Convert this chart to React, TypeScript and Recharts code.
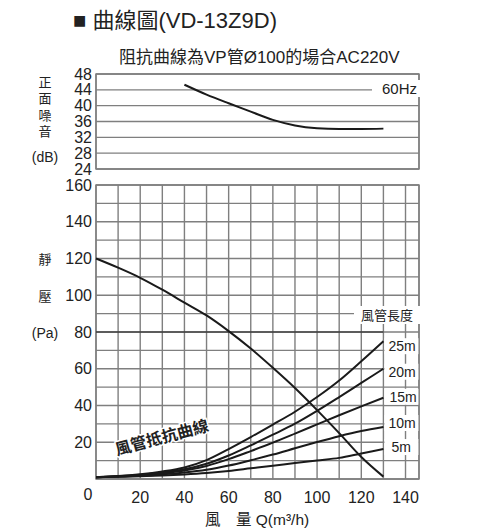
import React from 'react';
import { LineChart, Line, XAxis, YAxis, CartesianGrid, ReferenceLine, ReferenceArea, LabelList } from 'recharts';

// airflow Q (m³/h)
const flow = [0, 10, 20, 30, 40, 50, 60, 70, 80, 90, 100, 110, 120, 130];
// noise (dB), 60Hz
const noise60Hz = [null, null, null, null, 45.3, 42.8, 40.6, 38.5, 36.4, 35, 34.3, 34.1, 34.1, 34.2];
// static pressure (Pa)
const staticPressure = [120, 115, 109.5, 103, 96, 89, 80.5, 71, 60.5, 49.5, 37.5, 25, 12, 1.3];
// duct resistance curves (Pa)
const duct25m = [1, 1.6, 2.6, 4.1, 6.3, 10.3, 16.3, 22.8, 29.6, 36.6, 44.6, 53.6, 64.1, 75];
const duct20m = [1, 1.5, 2.3, 3.5, 5.3, 8.3, 12.8, 18.3, 24.1, 30.1, 37.1, 44.6, 52.3, 60];
const duct15m = [1, 1.4, 2.1, 3.1, 4.6, 7.1, 10.8, 15.2, 19.8, 24.7, 29.7, 34.7, 39.5, 44.2];
const duct10m = [1, 1.3, 1.8, 2.5, 3.5, 5, 7.3, 10.2, 13.3, 16.7, 20.1, 23.3, 26.1, 28.3];
const duct5m = [1, 1.2, 1.5, 1.9, 2.5, 3.3, 4.4, 5.8, 7.2, 8.7, 10.1, 11.5, 13.9, 16.3];
const ductLabels = ['25m', '20m', '15m', '10m', '5m'];

const xTicks = [0, 10, 20, 30, 40, 50, 60, 70, 80, 90, 100, 110, 120, 130, 140];
const noiseTicks = [24, 28, 32, 36, 40, 44, 48];
const pressureTicks = [0, 10, 20, 30, 40, 50, 60, 70, 80, 90, 100, 110, 120, 130, 140, 150, 160];
const X_MAX = 146.1;

const noiseData = flow.map((q, i) => ({ q, noise: noise60Hz[i] }));
const ductSeries = [duct25m, duct20m, duct15m, duct10m, duct5m];
const pressureData = flow.map((q, i) => {
  const row: any = { q, sp: staticPressure[i] };
  ductSeries.forEach((s, k) => { row['d' + k] = s[i]; });
  return row;
});

const FONT = '"Liberation Sans", Arial, "Noto Sans CJK TC", sans-serif';
const GRID = '#7f7f7f';
const INK = '#1a1a1a';
const TEXT = '#222';

const labelShift: Record<string, number> = { '25m': 5, '20m': 3, '15m': -1, '10m': -4, '5m': -2 };
const labelIndent: Record<string, number> = { '25m': 5, '20m': 5, '15m': 6, '10m': 5, '5m': 8 };

const YTick = (props: any) => {
  const { x, y, payload, labelStep, skipZero } = props;
  const v = payload.value;
  if (skipZero && v === 0) return null;
  if (labelStep && v % labelStep !== 0) return null;
  return (
    <text x={x + 4} y={y} dy={5.5} textAnchor="end" fontSize={16} fill={TEXT} fontFamily={FONT}>
      {v}
    </text>
  );
};

const XTick = (props: any) => {
  const { x, y, payload } = props;
  const v = payload.value;
  if (v % 20 !== 0) return null;
  if (v === 0) {
    return (
      <text x={x - 8} y={y} dy={13} textAnchor="middle" fontSize={16} fill={TEXT} fontFamily={FONT}>0</text>
    );
  }
  return (
    <text x={x} y={y} dy={16} textAnchor="middle" fontSize={16} fill={TEXT} fontFamily={FONT}>{v}</text>
  );
};

const makeEndLabel = (name: string) => (p: any) => {
  const { x, y, index } = p;
  if (index !== flow.length - 1) return null;
  const cy = y + labelShift[name];
  return (
    <g>
      <rect x={x + 1} y={cy - 8} width={34} height={16} fill="#fff" />
      <text x={x + labelIndent[name]} y={cy} dy={5} fontSize={14} fill={TEXT} fontFamily={FONT}>{name}</text>
    </g>
  );
};

export default function App() {
  return (
    <div style={{ position: 'absolute', left: 0, top: 0, width: 477, height: 530, background: '#fff', fontFamily: FONT }}>
      <div style={{ position: 'absolute', left: 0, top: 0 }}>
        <LineChart width={477} height={180} data={noiseData} margin={{ top: 74, right: 58, bottom: 11, left: 56 }}>
          <CartesianGrid stroke={GRID} strokeWidth={1.4} />
          <XAxis type="number" dataKey="q" domain={[0, X_MAX]} ticks={xTicks} height={0} tick={false} axisLine={false} tickLine={false} />
          <YAxis type="number" domain={[24, 48]} ticks={noiseTicks} width={40} axisLine={false} tickLine={false} tick={<YTick />} interval={0} />
          <ReferenceArea x1={0} x2={X_MAX} y1={24} y2={48} fill="none" stroke={GRID} strokeWidth={1.4} fillOpacity={0} />
          <Line type="monotone" dataKey="noise" stroke={INK} strokeWidth={2} dot={false} isAnimationActive={false} connectNulls={false} />
        </LineChart>
      </div>
      <div style={{ position: 'absolute', left: 0, top: 0 }}>
        <LineChart width={477} height={530} data={pressureData} margin={{ top: 185, right: 58, bottom: 21, left: 56 }}>
          <CartesianGrid stroke={GRID} strokeWidth={1.4} />
          <XAxis type="number" dataKey="q" domain={[0, X_MAX]} ticks={xTicks} height={30} axisLine={false} tickLine={false} tick={<XTick />} interval={0} />
          <YAxis type="number" domain={[0, 160]} ticks={pressureTicks} width={40} axisLine={false} tickLine={false} tick={<YTick labelStep={20} skipZero />} interval={0} />
          <ReferenceArea x1={0} x2={X_MAX} y1={0} y2={160} fill="none" stroke={GRID} strokeWidth={1.4} fillOpacity={0} />
          <ReferenceLine segment={[{ x: 0, y: 80 }, { x: 130, y: 80 }]} stroke={INK} strokeWidth={1.2} />
          <Line type="monotone" dataKey="sp" stroke={INK} strokeWidth={2} dot={false} isAnimationActive={false} />
          {ductLabels.map((name, k) => (
            <Line key={name} type="monotone" dataKey={'d' + k} stroke={INK} strokeWidth={2} dot={false} isAnimationActive={false}>
              <LabelList dataKey={'d' + k} content={makeEndLabel(name)} />
            </Line>
          ))}
        </LineChart>
      </div>
      <svg width={477} height={530} style={{ position: 'absolute', left: 0, top: 0, pointerEvents: 'none' }}>
        <text x={73} y={28} fontSize={22} fill={TEXT} fontFamily={FONT}>■ 曲線圖(VD-13Z9D)</text>
        <text x={119} y={63} fontSize={17} fill={TEXT} fontFamily={FONT}>阻抗曲線為VP管Ø100的場合AC220V</text>
        {['正', '面', '噪', '音'].map((c, i) => (
          <text key={c} x={45} y={87 + i * 16.3} fontSize={13} textAnchor="middle" fill={TEXT} fontFamily={FONT}>{c}</text>
        ))}
        <text x={45} y={162} fontSize={14} textAnchor="middle" fill={TEXT} fontFamily={FONT}>(dB)</text>
        <text x={45} y={264} fontSize={13} textAnchor="middle" fill={TEXT} fontFamily={FONT}>靜</text>
        <text x={45} y={301} fontSize={13} textAnchor="middle" fill={TEXT} fontFamily={FONT}>壓</text>
        <text x={45} y={338} fontSize={14} textAnchor="middle" fill={TEXT} fontFamily={FONT}>(Pa)</text>
        <rect x={372} y={80} width={48} height={17} fill="#fff" />
        <text x={382} y={94} fontSize={15} fill={TEXT} fontFamily={FONT}>60Hz</text>
        <rect x={354} y={306} width={66} height={18} fill="#fff" />
        <text x={361} y={320} fontSize={13} fill={TEXT} fontFamily={FONT}>風管長度</text>
        <text x={163} y={443} fontSize={16} fontWeight="bold" textAnchor="middle" fill={TEXT} fontFamily={FONT}
          stroke="#fff" strokeWidth={3} paintOrder="stroke" transform="rotate(-15 163 442)">風管抵抗曲線</text>
        <text x={205} y={525} fontSize={15.5} fill={TEXT} fontFamily={FONT}>風　量 Q(m³/h)</text>
      </svg>
    </div>
  );
}
